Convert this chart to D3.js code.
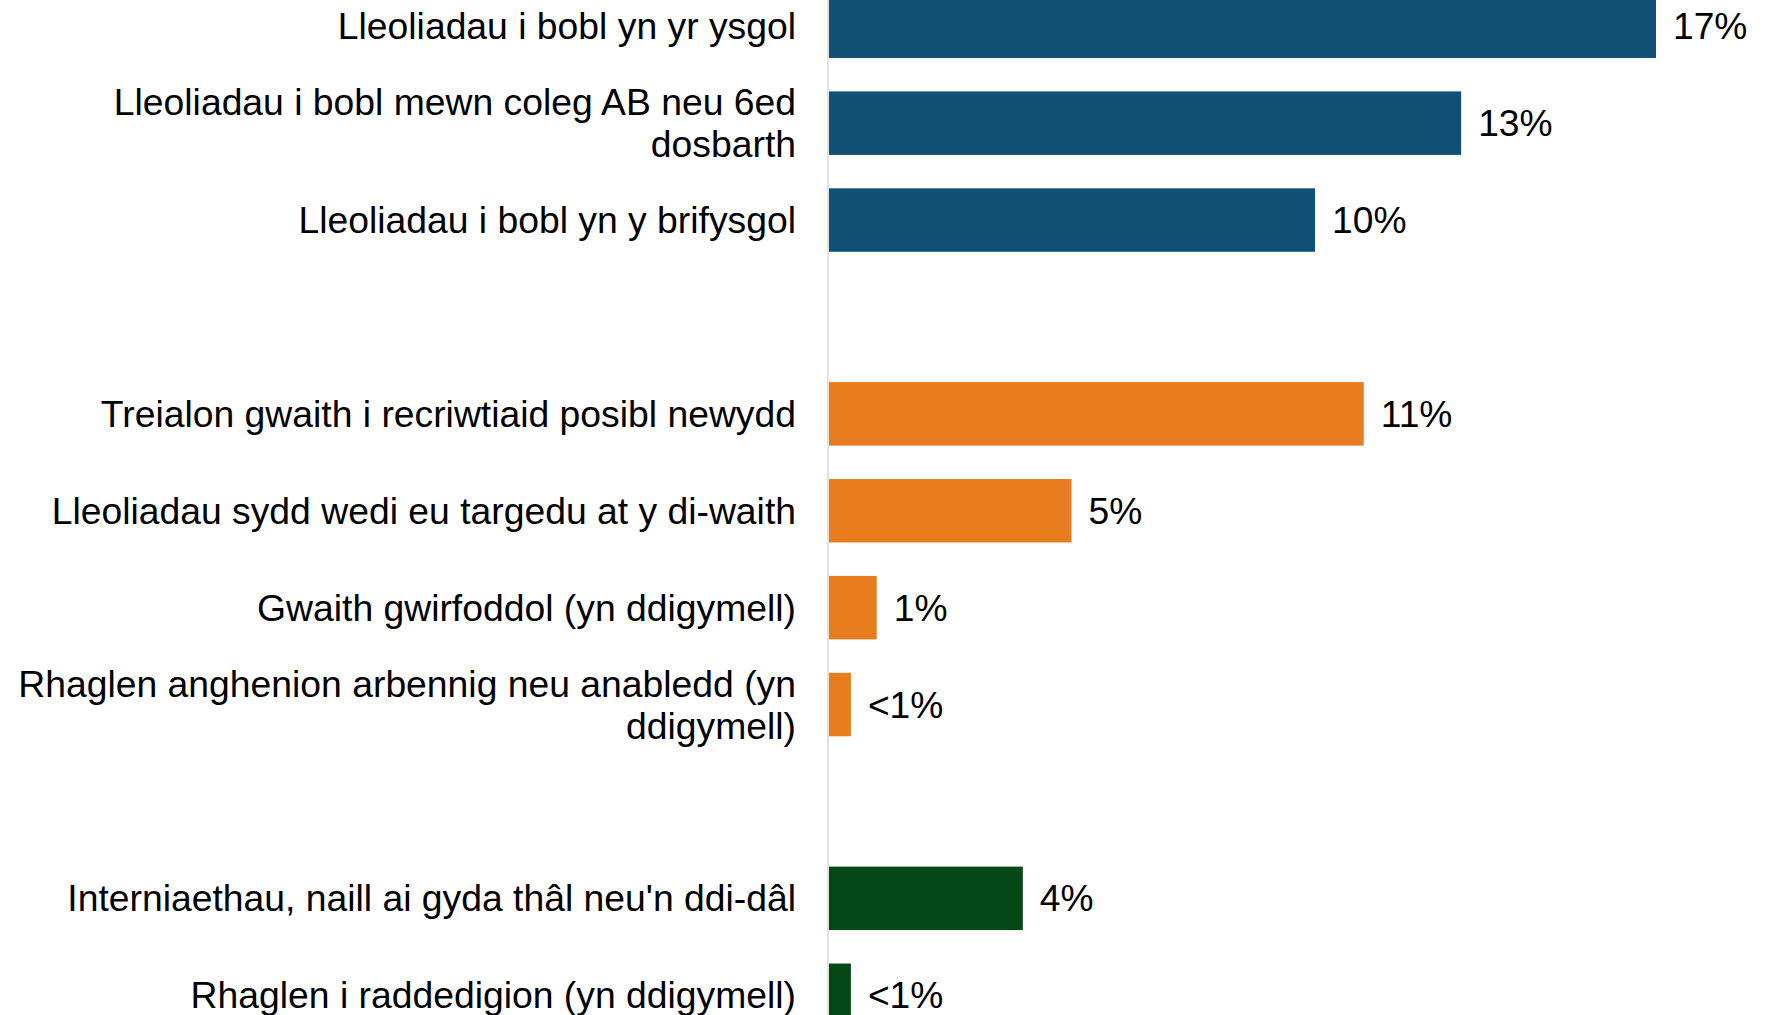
<!DOCTYPE html>
<html>
<head>
<meta charset="utf-8">
<script src="https://cdn.jsdelivr.net/npm/d3@7"></script>
<style>
  body { margin: 0; background: #fff; }
  svg { display: block; font-family: "Liberation Sans", Arial, sans-serif; }
</style>
</head>
<body>
<svg id="plot" width="1771" height="1015"></svg>
<script>
let categories = [
  "Lleoliadau i bobl yn yr ysgol",
  "Lleoliadau i bobl mewn coleg AB neu 6ed dosbarth",
  "Lleoliadau i bobl yn y brifysgol",
  "Treialon gwaith i recriwtiaid posibl newydd",
  "Lleoliadau sydd wedi eu targedu at y di-waith",
  "Gwaith gwirfoddol (yn ddigymell)",
  "Rhaglen anghenion arbennig neu anabledd (yn ddigymell)",
  "Interniaethau, naill ai gyda thâl neu'n ddi-dâl",
  "Rhaglen i raddedigion (yn ddigymell)"
];

let values = [17, 13, 10, 11, 5, 1, 0.47, 4, 0.47];

let valueLabels = ["17%", "13%", "10%", "11%", "5%", "1%", "<1%", "4%", "<1%"];

let groups = ["addysg", "addysg", "addysg", "gwaith", "gwaith", "gwaith", "gwaith", "graddedig", "graddedig"];

let colour = d3.scaleOrdinal()
    .domain(["addysg", "gwaith", "graddedig"])
    .range(["#124f75", "#e87d1f", "#044815"]);

const width = 1771;
const height = 1015;

let data = categories.map((c, i) => ({
  key: c, value: values[i], label: valueLabels[i], group: groups[i]
}));

// a blank slot between each group
let slots = [];
data.forEach((d, i) => {
  if (i > 0 && d.group !== data[i - 1].group) slots.push("gap" + i);
  slots.push(d.key);
});

let y = d3.scaleBand()
    .domain(slots)
    .range([-22.2, -22.2 + slots.length * 96.9])
    .paddingInner(0.345)
    .paddingOuter(0.1725);

let x = d3.scaleLinear()
    .domain([0, 17])
    .range([828, 1656]);

let svg = d3.select("#plot");

svg.append("g")
    .attr("transform", `translate(${x(0)}, 0)`)
    .call(d3.axisLeft(y).tickSize(0).tickFormat(""))
    .call(g => g.select(".domain")
        .attr("d", `M0,0V${height}`)
        .attr("stroke", "#d9d9d9")
        .attr("stroke-width", 1.5));

svg.append("g")
  .selectAll("rect")
  .data(data)
  .join("rect")
    .attr("x", x(0) + 1)
    .attr("y", d => y(d.key))
    .attr("width", d => x(d.value) - x(0) - 1)
    .attr("height", y.bandwidth())
    .attr("fill", d => colour(d.group));

svg.append("g")
    .style("font-size", "37.2px")
  .selectAll("text")
  .data(data)
  .join("text")
    .attr("x", d => x(d.value) + 17)
    .attr("y", d => y(d.key) + y.bandwidth() / 2)
    .attr("dy", "0.35em")
    .attr("fill", "#000")
    .text(d => d.label);

let labels = svg.append("g")
    .style("font-size", "37.3px")
  .selectAll("text")
  .data(data)
  .join("text")
    .attr("text-anchor", "end")
    .attr("fill", "#000")
    .attr("x", 796)
    .attr("y", d => y(d.key) + y.bandwidth() / 2);

labels.each(function(d) {
  wrap(d3.select(this), d.key, 790);
});

function wrap(text, str, maxWidth) {
  let words = str.split(" ");
  let lines = [];
  let line = [];
  let tspan = text.append("tspan");
  words.forEach(w => {
    line.push(w);
    tspan.text(line.join(" "));
    if (tspan.node().getComputedTextLength() > maxWidth && line.length > 1) {
      line.pop();
      lines.push(line.join(" "));
      line = [w];
    }
  });
  lines.push(line.join(" "));
  tspan.remove();
  let lineHeight = 41.8;
  let y0 = +text.attr("y") - (lines.length - 1) * lineHeight / 2;
  lines.forEach((l, i) => {
    text.append("tspan")
        .attr("x", text.attr("x"))
        .attr("y", y0 + i * lineHeight)
        .attr("dy", "0.35em")
        .text(l);
  });
}
</script>
</body>
</html>
